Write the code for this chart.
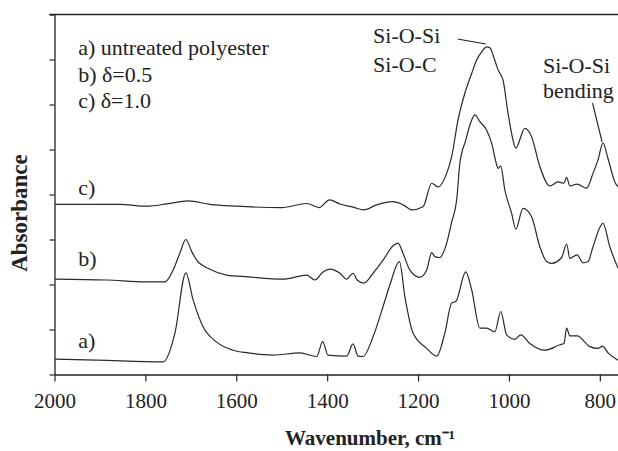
<!DOCTYPE html>
<html>
<head>
<meta charset="utf-8">
<script src="https://cdn.jsdelivr.net/npm/d3@7"></script>
<style>
  body { margin: 0; background: #fff; }
</style>
</head>
<body>
<div id="chart"></div>
<script>
const width = 618;
const height = 451;
const margin = { top: 14.5, right: 0, bottom: 76.5, left: 54.5 };
const serif = "Liberation Serif";

// wavenumber (cm-1) and absorbance (arbitrary, offset per curve)
const waveA = [1999, 1907, 1761, 1735, 1711, 1695, 1673, 1643, 1607, 1574, 1519, 1460, 1423, 1410, 1398, 1357, 1343, 1332, 1321, 1299, 1277, 1262, 1241, 1229, 1211, 1181, 1159, 1141, 1126, 1117, 1095, 1082, 1064, 1049, 1031, 1018, 1005, 987, 974, 954, 921, 888, 879, 873, 866, 850, 822, 804, 794, 782, 760];
const absA = [0.34, 0.32, 0.28, 0.92, 2.26, 1.66, 1.06, 0.72, 0.54, 0.48, 0.43, 0.48, 0.4, 0.73, 0.43, 0.41, 0.68, 0.41, 0.4, 0.84, 1.51, 1.99, 2.51, 1.73, 0.92, 0.58, 0.41, 0.92, 1.59, 1.62, 2.28, 1.88, 1.03, 1.03, 0.95, 1.4, 0.88, 0.78, 0.88, 0.69, 0.54, 0.66, 0.69, 1.03, 0.86, 0.86, 0.62, 0.58, 0.63, 0.48, 0.32];

const waveB = [1999, 1885, 1797, 1757, 1739, 1724, 1711, 1698, 1687, 1658, 1621, 1574, 1497, 1445, 1427, 1409, 1394, 1372, 1357, 1343, 1334, 1319, 1299, 1277, 1255, 1244, 1233, 1218, 1196, 1181, 1170, 1163, 1152, 1137, 1126, 1115, 1108, 1095, 1086, 1075, 1064, 1049, 1038, 1027, 1024, 1018, 1009, 994, 985, 969, 950, 932, 917, 906, 884, 873, 866, 850, 837, 826, 815, 793, 778, 760];
const absB = [2.12, 2.1, 2.06, 2.06, 2.32, 2.7, 3.0, 2.73, 2.54, 2.34, 2.21, 2.17, 2.12, 2.21, 2.1, 2.28, 2.34, 2.25, 2.12, 2.25, 2.1, 2.03, 2.25, 2.54, 2.86, 2.92, 2.69, 2.32, 2.16, 2.32, 2.71, 2.62, 2.6, 2.92, 3.39, 3.88, 4.69, 5.21, 5.54, 5.77, 5.62, 5.43, 5.14, 4.66, 4.58, 4.63, 4.1, 3.58, 3.23, 3.69, 3.5, 2.84, 2.51, 2.47, 2.6, 2.9, 2.58, 2.66, 2.48, 2.51, 2.84, 3.36, 2.84, 2.36];

const waveC = [1999, 1856, 1797, 1753, 1706, 1658, 1599, 1500, 1445, 1417, 1395, 1372, 1343, 1319, 1291, 1255, 1233, 1214, 1189, 1170, 1156, 1137, 1126, 1112, 1097, 1082, 1071, 1060, 1049, 1042, 1035, 1024, 1013, 1002, 991, 985, 965, 950, 932, 910, 892, 879, 873, 866, 850, 829, 815, 804, 793, 782, 767, 760];
const absC = [3.78, 3.78, 3.74, 3.79, 3.86, 3.78, 3.74, 3.71, 3.8, 3.71, 3.88, 3.79, 3.72, 3.66, 3.77, 3.84, 3.77, 3.66, 3.73, 4.25, 4.17, 4.47, 4.84, 5.66, 6.25, 6.69, 6.99, 7.17, 7.28, 7.26, 7.1, 6.77, 6.54, 5.81, 5.21, 5.03, 5.47, 5.28, 4.62, 4.19, 4.28, 4.25, 4.38, 4.19, 4.23, 4.14, 4.47, 4.77, 5.14, 4.8, 4.28, 4.17];

const xTicks = [2000, 1800, 1600, 1400, 1200, 1000, 800];
const yTicks = [0, 1, 2, 3, 4, 5, 6, 7, 8];

const legendLines = ["a) untreated polyester", "b) \u03b4=0.5", "c) \u03b4=1.0"];
const curveLabels = ["a)", "b)", "c)"];
const curveLabelY = [0.59, 2.41, 3.99];

const series = [
  { wave: waveA, abs: absA },
  { wave: waveB, abs: absB },
  { wave: waveC, abs: absC },
];

const svg = d3
  .select("#chart")
  .append("svg")
  .attr("width", width)
  .attr("height", height);

const xScale = d3
  .scaleLinear()
  .domain([2000, 760])
  .range([margin.left, width - margin.right]);
const yScale = d3
  .scaleLinear()
  .domain([0, 8])
  .range([height - margin.bottom, margin.top]);

// x axis
const xAxis = d3
  .axisBottom(xScale)
  .tickValues(xTicks)
  .tickFormat(d3.format("d"))
  .tickSizeInner(7)
  .tickSizeOuter(0)
  .tickPadding(12);
const gx = svg
  .append("g")
  .attr("transform", `translate(0, ${height - margin.bottom})`)
  .call(xAxis);
gx.select(".domain").attr("stroke", "#222").attr("stroke-width", 1.3);
gx.selectAll(".tick line").attr("stroke", "#222").attr("stroke-width", 1.2);
gx.selectAll(".tick text")
  .attr("font-size", 21)
  .style("font-family", serif)
  .attr("fill", "#222");

// y axis, no labels
const yAxis = d3
  .axisLeft(yScale)
  .tickValues(yTicks)
  .tickFormat("")
  .tickSizeInner(5)
  .tickSizeOuter(0);
const gy = svg
  .append("g")
  .attr("transform", `translate(${margin.left}, 0)`)
  .call(yAxis);
gy.select(".domain").attr("stroke", "#222").attr("stroke-width", 1.3);
gy.selectAll(".tick line").attr("stroke", "#222").attr("stroke-width", 1.2);

// top frame line
svg
  .append("line")
  .attr("x1", margin.left - 5)
  .attr("x2", width)
  .attr("y1", yScale(8))
  .attr("y2", yScale(8))
  .attr("stroke", "#222")
  .attr("stroke-width", 1.3);

// spectra
const line = d3
  .line()
  .curve(d3.curveMonotoneX)
  .x((d) => xScale(d[0]))
  .y((d) => yScale(d[1]));

series.forEach((s) => {
  svg
    .append("path")
    .datum(d3.zip(s.wave, s.abs))
    .attr("fill", "none")
    .attr("stroke", "#2a2a2a")
    .attr("stroke-width", 1.2)
    .attr("stroke-linejoin", "round")
    .attr("d", line);
});

// curve labels
svg
  .selectAll(".clabel")
  .data(curveLabels)
  .enter()
  .append("text")
  .attr("class", "clabel")
  .attr("x", xScale(1948))
  .attr("y", (d, i) => yScale(curveLabelY[i]))
  .attr("font-size", 22)
  .style("font-family", serif)
  .attr("fill", "#222")
  .text((d) => d);

// legend text
svg
  .selectAll(".legend")
  .data(legendLines)
  .enter()
  .append("text")
  .attr("class", "legend")
  .attr("x", xScale(1948))
  .attr("y", (d, i) => 55 + i * 26.5)
  .attr("font-size", 22)
  .style("font-family", serif)
  .attr("fill", "#222")
  .text((d) => d);

// annotations
const ann = svg
  .append("g")
  .attr("font-size", 22)
  .style("font-family", serif)
  .attr("fill", "#222");
ann.append("text").attr("x", xScale(1299)).attr("y", 43).text("Si-O-Si");
ann.append("text").attr("x", xScale(1299)).attr("y", 72).text("Si-O-C");
ann.append("text").attr("x", xScale(1000) + 34).attr("y", 73).text("Si-O-Si");
ann.append("text").attr("x", xScale(1000) + 34).attr("y", 98).text("bending");
svg
  .append("line")
  .attr("x1", xScale(1113))
  .attr("y1", 39)
  .attr("x2", xScale(1051))
  .attr("y2", 44)
  .attr("stroke", "#222")
  .attr("stroke-width", 1.1);
svg
  .append("line")
  .attr("x1", xScale(816))
  .attr("y1", 103)
  .attr("x2", xScale(795))
  .attr("y2", 142)
  .attr("stroke", "#222")
  .attr("stroke-width", 1.1);

// axis titles
svg
  .append("text")
  .attr("x", 370)
  .attr("y", 445)
  .attr("text-anchor", "middle")
  .attr("font-size", 21)
  .attr("font-weight", "bold")
  .style("font-family", serif)
  .attr("fill", "#222")
  .text("Wavenumber, cm\u207b\u00b9");

svg
  .append("text")
  .attr("transform", `translate(27, 213) rotate(-90)`)
  .attr("text-anchor", "middle")
  .attr("font-size", 23)
  .attr("font-weight", "bold")
  .style("font-family", serif)
  .attr("fill", "#222")
  .text("Absorbance");
</script>
</body>
</html>
